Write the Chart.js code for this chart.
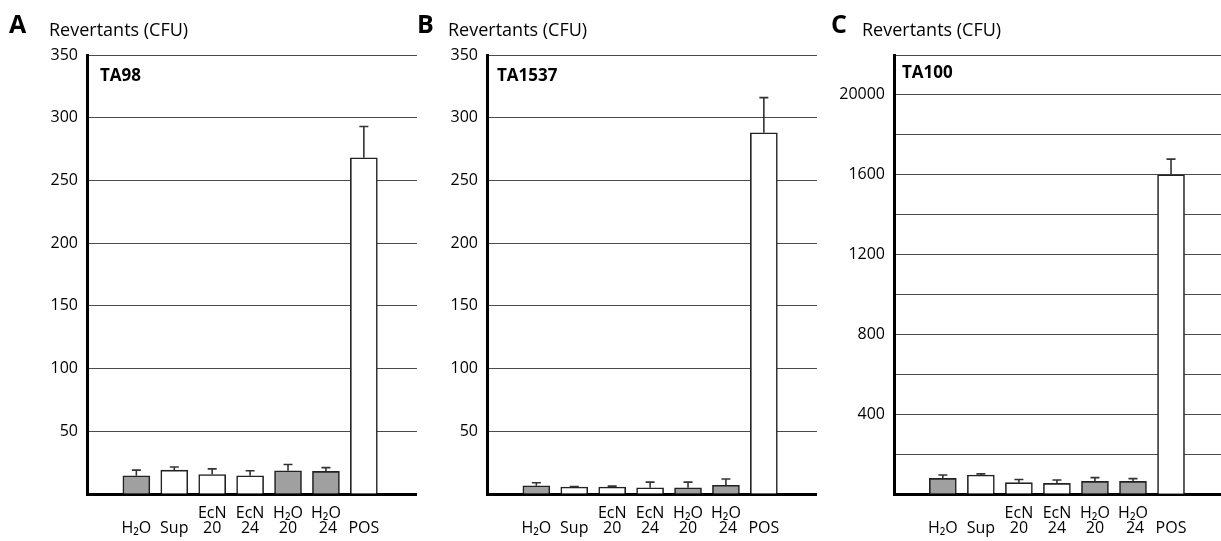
<!DOCTYPE html>
<html>
<head>
<meta charset="utf-8">
<script src="https://cdn.jsdelivr.net/npm/chart.js@4"></script>
<style>
  body { margin: 0; background: #fff; width: 1221px; height: 541px; overflow: hidden; position: relative; font-family: "Open Sans", sans-serif; }
  .box { position: absolute; top: 0; height: 541px; }
  .letter { position: absolute; font-weight: bold; font-size: 25px; top: 6px; color: #000; }
  .ytitle { position: absolute; font-size: 18px; top: 17px; color: #000; }
  .strain { position: absolute; font-weight: bold; font-size: 17px; top: 63px; color: #000; }
</style>
</head>
<body>
<div class="box" style="left:0;width:417px"><canvas id="chartA"></canvas></div>
<div class="box" style="left:400px;width:417px"><canvas id="chartB"></canvas></div>
<div class="box" style="left:810px;width:411px"><canvas id="chartC"></canvas></div>

<div class="letter" style="left:9px">A</div>
<div class="ytitle" style="left:49px">Revertants (CFU)</div>
<div class="strain" style="left:100px">TA98</div>

<div class="letter" style="left:417px">B</div>
<div class="ytitle" style="left:448px">Revertants (CFU)</div>
<div class="strain" style="left:497px">TA1537</div>

<div class="letter" style="left:831px">C</div>
<div class="ytitle" style="left:862px">Revertants (CFU)</div>
<div class="strain" style="left:902px;top:60px">TA100</div>

<script>
// categories (two lines, empty first line keeps single labels on the bottom row)
const categories = [
  ['', 'H₂O'], ['', 'Sup'], ['EcN', '20'], ['EcN', '24'], ['H₂O', '20'], ['H₂O', ' 24'], ['', 'POS']
];
const barColors = ['#a0a0a0', '#ffffff', '#ffffff', '#ffffff', '#a0a0a0', '#a0a0a0', '#ffffff'];

// TA98
const valuesA = [14.5, 19, 15.5, 14.5, 18.5, 18, 268];
const errorsA = [4.5, 2.5, 4.5, 4, 5, 3, 25];
// TA1537
const valuesB = [6.5, 5.5, 5.5, 5, 5, 7, 288];
const errorsB = [2.5, 0.5, 0.8, 4.5, 4.5, 5, 28];
// TA100
const valuesC = [78, 95, 57, 53, 63, 63, 1600];
const errorsC = [17, 6, 16, 17, 19, 14, 78];

// y tick labels
const tickValuesAB = [50, 100, 150, 200, 250, 300, 350];
const tickValuesC = [400, 800, 1200, 1600, 2000];
const tickTextC = ['400', '800', '1200', '1600', '20000'];

const font = { family: '"Open Sans", sans-serif', size: 16, lineHeight: 0.95 };

// draws upper error bars with a small cap
const errorBars = {
  id: 'errorBars',
  afterDatasetsDraw(chart) {
    const ctx = chart.ctx;
    const ys = chart.scales.y;
    const meta = chart.getDatasetMeta(0);
    const ds = chart.data.datasets[0];
    ctx.save();
    ctx.strokeStyle = '#333';
    ctx.lineWidth = 1.6;
    meta.data.forEach((bar, i) => {
      const v = ds.data[i].y;
      const top = ys.getPixelForValue(v + ds.errors[i]);
      const base = ys.getPixelForValue(v);
      ctx.beginPath();
      ctx.moveTo(bar.x, base);
      ctx.lineTo(bar.x, top);
      ctx.moveTo(bar.x - 4.5, top);
      ctx.lineTo(bar.x + 4.5, top);
      ctx.stroke();
    });
    ctx.restore();
  }
};

function makeChart(id, values, errors, yMax, step, yWidth, xMin, xMax, labelFn) {
  return new Chart(document.getElementById(id), {
    type: 'bar',
    data: {
      datasets: [{
        data: values.map((v, i) => ({ x: i, y: v })),
        errors: errors,
        backgroundColor: barColors,
        borderColor: '#222',
        borderWidth: 1.6,
        borderSkipped: 'bottom',
        barThickness: 27
      }]
    },
    options: {
      responsive: true,
      maintainAspectRatio: false,
      animation: false,
      layout: { padding: { top: 55, left: 0, right: 0, bottom: 0 } },
      plugins: { legend: { display: false }, tooltip: { enabled: false } },
      scales: {
        x: {
          type: 'linear',
          min: xMin,
          max: xMax,
          afterBuildTicks: (axis) => { axis.ticks = categories.map((c, i) => ({ value: i })); },
          afterFit: (axis) => { axis.height = 47; },
          grid: { display: false },
          border: { display: true, color: '#000', width: 3 },
          ticks: {
            autoSkip: false,
            maxRotation: 0,
            padding: 4,
            color: '#000',
            font: font,
            callback: (v) => categories[v]
          }
        },
        y: {
          min: 0,
          max: yMax,
          afterFit: (axis) => { axis.width = yWidth; },
          afterBuildTicks: (axis) => {
            const t = [];
            for (let v = 0; v <= yMax; v += step) t.push({ value: v });
            axis.ticks = t;
          },
          grid: { color: '#4a4a4a', lineWidth: 1, drawTicks: false },
          border: { display: true, color: '#000', width: 3 },
          ticks: {
            padding: 9,
            color: '#000',
            font: font,
            callback: labelFn
          }
        }
      }
    },
    plugins: [errorBars]
  });
}

const labelAB = (v) => tickValuesAB.includes(v) ? String(v) : '';
const labelC = (v) => {
  const k = tickValuesC.indexOf(v);
  return k >= 0 ? tickTextC[k] : '';
};

makeChart('chartA', valuesA, errorsA, 350, 50, 87, -0.68, 6.78, labelAB);
makeChart('chartB', valuesB, errorsB, 350, 50, 87, -0.68, 6.78, labelAB);
makeChart('chartC', valuesC, errorsC, 2200, 200, 84, -0.67, 6.7, labelC);
</script>
</body>
</html>
